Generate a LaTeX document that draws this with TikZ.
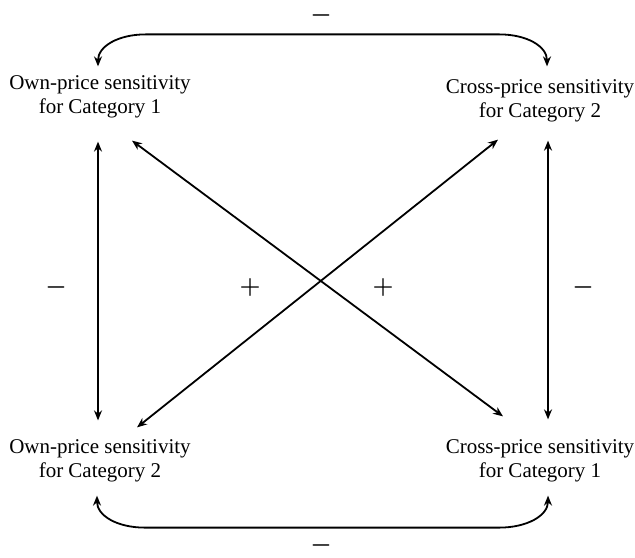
\documentclass[tikz,border=0pt]{standalone}
\usepackage{fontspec}
\setmainfont{Liberation Serif}
\usetikzlibrary{arrows.meta}
\begin{document}
\begin{tikzpicture}[x=0.5pt,y=-0.5pt,
    every node/.style={inner sep=0pt,align=center,font=\fontsize{10.5}{12}\selectfont},
    link/.style={{Stealth[length=5pt,width=4pt]}-{Stealth[length=5pt,width=4pt]},line width=0.9pt},
    signtxt/.style={font=\fontsize{12}{14}\selectfont\boldmath}]
        \useasboundingbox (0,0) rectangle (635,557);
        \node (own1)   at (100,97)  {Own-price sensitivity\\for Category 1};
        \node (cross2) at (540,101) {Cross-price sensitivity\\for Category 2};
        \node (own2)   at (100,461) {Own-price sensitivity\\for Category 2};
        \node (cross1) at (540,461) {Cross-price sensitivity\\for Category 1};
        \node[signtxt] (mtop)   at (321,15)  {$-$};
        \node[signtxt] (mbot)   at (321,545) {$-$};
        \node[signtxt] (mleft)  at (56,287)  {$-$};
        \node[signtxt] (pleft)  at (250,287) {$+$};
        \node[signtxt] (pright) at (383,287) {$+$};
        \node[signtxt] (mright) at (583,287) {$-$};
        \draw[link] ([shift={(-2,-9)}]own1.north) .. controls +(0,-20) and +(-28,0) .. ++(48,-32)
            -- ([shift={(-41,-45)}]cross2.north) .. controls +(28,0) and +(0,-20) .. ([shift={(7,-13)}]cross2.north);
        \draw[link] ([shift={(-3,13)}]own2.south) .. controls +(0,20) and +(-28,0) .. ++(48,32)
            -- ([shift={(-41,45)}]cross1.south) .. controls +(28,0) and +(0,20) .. ([shift={(8,13)}]cross1.south);
        \draw[link] ([shift={(-2,23)}]own1.south) -- ([shift={(-2,-19)}]own2.north);
        \draw[link] ([shift={(8,18)}]cross2.south) -- ([shift={(8,-20)}]cross1.north);
        \draw[link] ([shift={(32,22)}]own1.south) -- ([shift={(-37,-23)}]cross1.north);
        \draw[link] ([shift={(-42,17)}]cross2.south) -- ([shift={(37,-12)}]own2.north);
    \end{tikzpicture}
\end{document}
